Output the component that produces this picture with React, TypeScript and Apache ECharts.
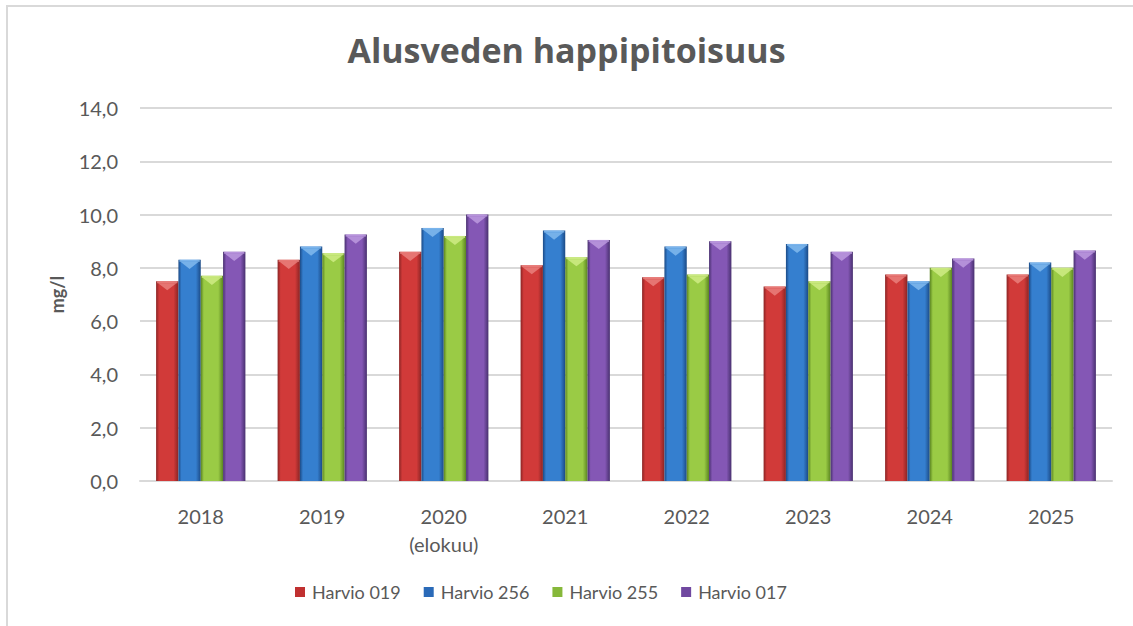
import React, { useEffect, useRef } from "react";
import * as echarts from "echarts";

const categories = ["2018", "2019", "2020\n(elokuu)", "2021", "2022", "2023", "2024", "2025"];
const seriesNames = ["Harvio 019", "Harvio 256", "Harvio 255", "Harvio 017"];
const harvio019 = [7.5, 8.3, 8.6, 8.1, 7.65, 7.3, 7.75, 7.75];
const harvio256 = [8.3, 8.8, 9.5, 9.4, 8.8, 8.9, 7.5, 8.2];
const harvio255 = [7.7, 8.55, 9.2, 8.4, 7.75, 7.5, 8.0, 8.0];
const harvio017 = [8.6, 9.25, 10.0, 9.05, 9.0, 8.6, 8.35, 8.65];
const yTicks = { min: 0, max: 14, interval: 2 };

const palettes = [
  { edge: "#8a2424", mid: "#d13a39", cap: "#ec8a86", legend: "#c03030" },
  { edge: "#1b4a86", mid: "#357fcf", cap: "#8cc2f2", legend: "#2a6ab8" },
  { edge: "#5a8420", mid: "#9acb45", cap: "#d6f08e", legend: "#86b83a" },
  { edge: "#48306f", mid: "#8457b5", cap: "#c4a3e6", legend: "#7048a0" },
];

const FONT = "Lato, 'Open Sans', sans-serif";
const GREY = "#595959";
const GROUP_FRACTION = 0.735;

function grad(p: { edge: string; mid: string }) {
  return new echarts.graphic.LinearGradient(0, 0, 1, 0, [
    { offset: 0, color: p.edge },
    { offset: 0.14, color: p.mid },
    { offset: 0.78, color: p.mid },
    { offset: 1, color: p.edge },
  ]);
}

export default function App() {
  const ref = useRef<HTMLDivElement>(null);
  useEffect(() => {
    if (!ref.current) return;
    const chart = echarts.init(ref.current, undefined, { renderer: "svg" });
    const data = [harvio019, harvio256, harvio255, harvio017];
    chart.setOption({
      animation: false,
      backgroundColor: "#ffffff",
      textStyle: { fontFamily: FONT },
      graphic: [
        {
          type: "rect",
          shape: { x: 7, y: 6, width: 1140, height: 640 },
          style: { fill: "none", stroke: "#d9d9d9", lineWidth: 2 },
          silent: true,
        },
      ],
      title: {
        text: "Alusveden happipitoisuus",
        left: "center",
        top: 28,
        textStyle: { fontFamily: "'Open Sans', Lato, sans-serif", fontSize: 34, fontWeight: "bold", color: GREY },
      },
      legend: {
        left: 290,
        top: 578,
        itemWidth: 10,
        itemHeight: 10,
        itemGap: 23,
        icon: "rect",
        textStyle: { fontFamily: FONT, fontSize: 18, color: GREY, padding: [0, 0, 0, 2] },
        data: seriesNames.map((n, i) => ({ name: n, itemStyle: { color: palettes[i].legend } })),
      },
      grid: { left: 140, right: 21, top: 108, bottom: 145, containLabel: false },
      xAxis: {
        type: "category",
        data: categories,
        axisLine: { lineStyle: { color: "#d9d9d9", width: 2 } },
        axisTick: { show: false },
        axisLabel: { fontFamily: FONT, fontSize: 20, color: GREY, margin: 21, lineHeight: 28 },
      },
      yAxis: {
        type: "value",
        min: yTicks.min,
        max: yTicks.max,
        interval: yTicks.interval,
        name: "mg/l",
        nameLocation: "middle",
        nameGap: 74,
        nameRotate: 90,
        nameTextStyle: { fontFamily: FONT, fontSize: 18, fontWeight: "bold", color: GREY },
        axisLine: { show: false },
        axisTick: { show: false },
        splitLine: { lineStyle: { color: "#d9d9d9", width: 2 } },
        axisLabel: {
          fontFamily: FONT,
          fontSize: 20,
          color: GREY,
          margin: 22,
          formatter: (v: number) => v.toFixed(1).replace(".", ","),
        },
      },
      series: data.map((d, i) => ({
        type: "custom",
        name: seriesNames[i],
        data: d.map((v, k) => [k, v]),
        encode: { x: 0, y: 1 },
        itemStyle: { color: palettes[i].legend },
        renderItem: (params: any, api: any) => {
          const k = api.value(0);
          const v = api.value(1);
          const top = api.coord([k, v]);
          const base = api.coord([k, 0]);
          const catW = api.size([1, 0])[0];
          const groupW = catW * GROUP_FRACTION;
          const bw = groupW / 4;
          const x = top[0] - groupW / 2 + i * bw;
          const yT = top[1];
          const capH = bw * 0.32;
          return {
            type: "group",
            children: [
              {
                type: "rect",
                shape: { x, y: yT, width: bw, height: base[1] - yT },
                style: { fill: grad(palettes[i]) },
              },
              {
                type: "rect",
                shape: { x: x + 1, y: yT, width: bw - 2, height: 2 },
                style: { fill: palettes[i].cap, opacity: 0.8 },
              },
              {
                type: "polygon",
                shape: {
                  points: [
                    [x + 2, yT + 2],
                    [x + bw - 2, yT + 2],
                    [x + bw / 2, yT + 2 + capH],
                  ],
                },
                style: { fill: palettes[i].cap, opacity: 0.75 },
              },
            ],
          };
        },
      })),
    });
    return () => chart.dispose();
  }, []);
  return (
    <div
      ref={ref}
      style={{ position: "fixed", left: 0, top: 0, width: 1133, height: 626 }}
    />
  );
}
